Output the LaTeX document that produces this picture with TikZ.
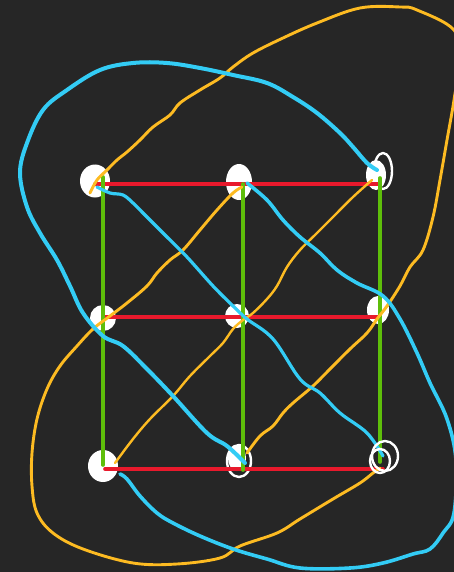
\documentclass[tikz,border=0pt]{standalone}
\usetikzlibrary{shapes.geometric}
\definecolor{bgdark}{HTML}{262626}
\definecolor{penblue}{HTML}{33CCF5}
\definecolor{penyellow}{HTML}{FDBB22}
\definecolor{penred}{HTML}{E8192C}
\definecolor{pengreen}{HTML}{5EBE0A}
\begin{document}
\begin{tikzpicture}[x=1pt, y=-1pt, line join=round, line cap=round,
  blob/.style={ellipse, fill=white, inner sep=0pt},
  ring/.style={ellipse, draw=white, line width=2.4pt, inner sep=0pt},
  hline/.style={penred, line width=3.6pt},
  vline/.style={pengreen, line width=3.6pt},
  bstroke/.style={penblue, line width=3.6pt},
  ystroke/.style={penyellow, line width=2.9pt}]
  % 背景
  \fill[bgdark] (0,0) rectangle (454,572);
  \clip (0,0) rectangle (454,572);

  % 网格交点
  \coordinate (c11) at (103,184);
  \coordinate (c12) at (243,184);
  \coordinate (c13) at (380,184);
  \coordinate (c21) at (103,317);
  \coordinate (c22) at (243,317);
  \coordinate (c23) at (380,317);
  \coordinate (c31) at (103,469);
  \coordinate (c32) at (243,469);
  \coordinate (c33) at (380,469);

  % 白色顶点
  \node[blob, minimum width=30pt, minimum height=33pt] (v11) at (95,181) {};
  \node[blob, minimum width=26pt, minimum height=36pt] (v12) at (239,182) {};
  \node[blob, minimum width=20pt, minimum height=30pt] (v13) at (376,175) {};
  \node[ring, minimum width=18pt, minimum height=36pt] (r13) at (383,171) {};
  \node[blob, minimum width=26pt, minimum height=26pt] (v21) at (103,318) {};
  \node[blob, minimum width=24pt, minimum height=24pt] (v22) at (237,316) {};
  \node[blob, minimum width=22pt, minimum height=28pt] (v23) at (378,310) {};
  \node[blob, minimum width=30pt, minimum height=32pt] (v31) at (103,466) {};
  \node[blob, minimum width=18pt, minimum height=26pt] (v32) at (237,458) {};
  \node[ring, minimum width=24pt, minimum height=32pt] (r32) at (239,461) {};

  % 水平边
  \draw[hline] ([xshift=-8pt]c11) -- (c13);
  \draw[hline] (c21) -- (c23);
  \draw[hline] ([xshift=2pt]c31) -- ([xshift=3pt]c33);

  % 竖直边
  \draw[vline] ([yshift=7pt]c11) -- ([yshift=4pt]c31);
  \draw[vline] (c12) -- ([yshift=-1pt]c32);
  \draw[vline] ([yshift=6pt]c13) -- ([yshift=7pt]c33);

  % 黄色笔画
  \draw[ystroke] plot[smooth, tension=0.6] coordinates {(247,453) (260,436) (273,426) (283,413) (293,403) (313,386) (330,369) (350,349) (367,333) (377,319) (387,306) (400,286) (410,267) (423,250) (433,217) (440,180) (447,140) (454,100) (459,60) (454,30) (417,10) (400,7) (360,8) (317,23) (283,38) (253,53) (233,67) (220,78) (200,90) (180,103) (170,115) (153,127) (140,140) (127,152) (117,160) (107,170) (97,180) (90,193)};
  \draw[ystroke, line width=2.4pt] plot[smooth, tension=0.6] coordinates {(372,180) (353,197) (333,217) (317,233) (300,250) (287,267) (277,286) (267,299) (253,313) (243,320) (233,329) (223,343) (210,356) (190,376) (173,396) (150,419) (133,439) (115,463)};
  \draw[ystroke] plot[smooth, tension=0.6] coordinates {(242,187) (233,193) (217,210) (200,230) (183,250) (170,260) (157,273) (147,286) (127,303) (110,316) (93,329) (77,346) (60,366) (47,389) (37,419) (32,453) (32,486) (37,513) (53,533) (83,549) (133,563) (177,564) (220,558) (240,546) (277,533) (300,519) (333,499) (360,483) (373,473) (380,468)};

  % 蓝色笔画
  \draw[bstroke, line width=4pt] plot[smooth, tension=0.6] coordinates {(377,170) (367,163) (353,147) (340,133) (317,113) (293,97) (267,83) (233,75) (200,68) (167,63) (133,63) (100,70) (67,90) (43,110) (27,143) (20,173) (27,207) (40,233) (57,260) (70,286) (83,313) (103,336) (123,346) (147,369) (173,396) (207,433) (227,446) (245,463)};
  \draw[bstroke, line width=3.2pt] plot[smooth, tension=0.6] coordinates {(97,187) (110,193) (123,195) (133,203) (143,213) (167,237) (187,257) (213,286) (233,306) (247,319) (273,339) (300,379) (320,393) (340,413) (367,433) (383,456)};
  \draw[bstroke] plot[smooth, tension=0.6] coordinates {(247,183) (267,200) (283,220) (300,237) (320,253) (337,270) (357,283) (383,296) (400,319) (417,353) (430,383) (447,419) (456,460) (454,513) (443,533) (430,549) (413,554) (383,563) (350,568) (300,568) (267,559) (233,549) (200,536) (173,523) (157,513) (140,496) (127,479) (120,474)};

  % 右下角圈
  \node[ring, minimum width=26pt, minimum height=30pt] (r33) at (385,456) {};
  \node[ring, minimum width=20pt, minimum height=24pt] (v33) at (380,461) {};
\end{tikzpicture}
\end{document}
